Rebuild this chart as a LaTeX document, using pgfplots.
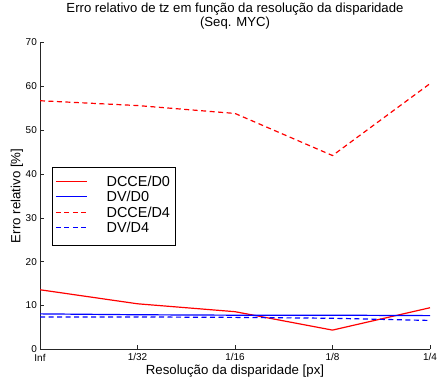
\documentclass[border=0pt]{standalone}
\usepackage{pgfplots}
\pgfplotsset{compat=1.18}
\usepackage{fontspec}
\setmainfont{Liberation Sans}
\begin{document}
\begin{tikzpicture}
\begin{axis}[
  name=ax,
  scale only axis,
  width=390bp, height=307bp,
  xmin=0, xmax=4, ymin=0, ymax=70,
  axis x line*=bottom, axis y line*=left,
  axis line style={-, black!85, line width=0.8pt},
  xtick={0,1,2,3,4},
  xticklabels={Inf,1/32,1/16,1/8,1/4},
  ytick={0,10,...,70},
  tick align=inside,
  major tick length=4bp,
  tick style={black!85, line width=0.6pt},
  /pgf/number format/assume math mode=true,
  tick label style={font=\fontsize{10}{11}\selectfont},
  xticklabel style={anchor=center, yshift=-8bp, inner sep=0pt},
  yticklabel style={anchor=east, inner sep=0pt, xshift=-3bp},
  title={Erro relativo de tz em função da resolução da disparidade\\(Seq. MYC)},
  title style={at={([yshift=20bp]axis description cs:0.5,1)}, anchor=center, align=center, font=\fontsize{13.2}{14}\selectfont},
  xlabel={Resolução da disparidade [px]},
  ylabel={Erro relativo [\%]},
  label style={font=\fontsize{13.3}{14}\selectfont},
  xlabel style={at={([yshift=-22bp]axis description cs:0.5,0)}, anchor=center},
  ylabel style={at={([xshift=-23bp]axis description cs:0,0.5)}, anchor=center, rotate=0},
  legend style={at={(axis cs:0.123,41.7)}, anchor=north west, draw=black, line width=0.8pt,
    font=\fontsize{14.5}{15}\selectfont, row sep=0bp, inner xsep=3bp, inner ysep=8bp,
    nodes={inner xsep=2bp, inner ysep=1bp, text height=10.5bp, text depth=3bp}},
  legend cell align=left,
  legend image code/.code={\draw[#1] (4bp,1.5bp) -- (35bp,1.5bp);},
  every axis plot/.append style={line width=1.2pt},
]
\addplot[draw=red, solid, forget plot] coordinates {(0,13.6) (1,10.4) (2,8.6) (3,4.4) (4,9.5)};
\addplot[draw=blue, solid, forget plot] coordinates {(0,8.1) (1,7.9) (2,7.8) (3,7.8) (4,7.7)};
\addplot[draw=red, dash pattern=on 5bp off 3.5bp, forget plot] coordinates {(0,56.7) (1,55.6) (2,53.8) (3,44.2) (4,60.6)};
\addplot[draw=blue, dash pattern=on 5bp off 3.5bp, forget plot] coordinates {(0,7.4) (1,7.4) (2,7.3) (3,7.1) (4,6.6)};
\addlegendimage{draw=red, solid, line width=1.2pt}
\addlegendentry{\hspace{17bp}DCCE/D0}
\addlegendimage{draw=blue, solid, line width=1.2pt}
\addlegendentry{\hspace{17bp}DV/D0}
\addlegendimage{draw=red, dash pattern=on 5bp off 3.5bp, line width=1.2pt}
\addlegendentry{\hspace{17bp}DCCE/D4}
\addlegendimage{draw=blue, dash pattern=on 5bp off 3.5bp, line width=1.2pt}
\addlegendentry{\hspace{17bp}DV/D4}
\end{axis}
\path ([xshift=-40bp,yshift=-33bp]ax.south west) rectangle ([xshift=7bp,yshift=41bp]ax.north east);
\end{tikzpicture}
\end{document}
